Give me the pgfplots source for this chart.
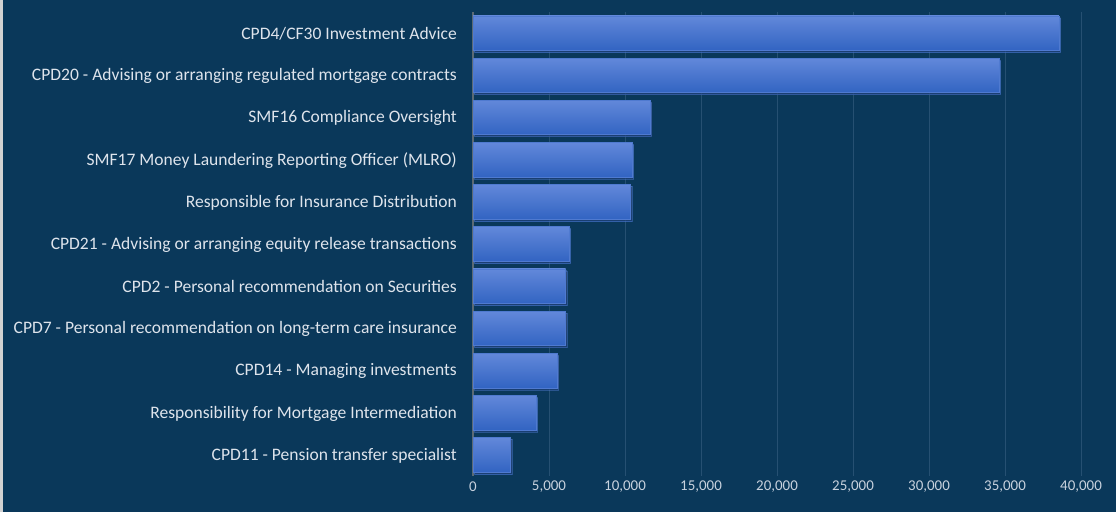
\documentclass[border=0pt]{standalone}
\usepackage{fontspec}
\usepackage{pgfplots}
\pgfplotsset{compat=1.18}
\usetikzlibrary{shadows}
\setmainfont{Carlito}
\definecolor{bg}{RGB}{10,56,90}
\definecolor{gridc}{RGB}{38,80,114}
\definecolor{bartop}{RGB}{98,136,218}
\definecolor{barbot}{RGB}{50,100,194}
\definecolor{txt}{RGB}{222,228,236}
\definecolor{ticktxt}{RGB}{200,210,222}
\pgfplotsset{mybar/.style={draw=bartop!60!barbot, line width=0.5bp, top color=bartop, bottom color=barbot,
  drop shadow={shadow xshift=1.5bp, shadow yshift=-2bp, fill=black, opacity=0.45}}}
\begin{document}
\begin{tikzpicture}[x=1bp,y=1bp]
\fill[bg] (0,0) rectangle (1116,512);
\fill[gray!35] (0,0) rectangle (3,512);
\begin{axis}[
  at={(473bp,36bp)}, anchor=south west,
  scale only axis, width=608bp, height=464bp,
  xbar, bar width=34.5bp, bar shift=0pt,
  xmin=0, xmax=40000,
  ymin=-0.5, ymax=10.5,
  ytick={0,...,10},
  yticklabels={
    CPD11 - Pension transfer specialist,
    Responsibility for Mortgage Intermediation,
    CPD14 - Managing investments,
    CPD7 - Personal recommendation on long-term care insurance,
    CPD2 - Personal recommendation on Securities,
    CPD21 - Advising or arranging equity release transactions,
    Responsible for Insurance Distribution,
    SMF17 Money Laundering Reporting Officer (MLRO),
    SMF16 Compliance Oversight,
    CPD20 - Advising or arranging regulated mortgage contracts,
    CPD4/CF30 Investment Advice},
  xtick={0,5000,...,40000},
  scaled x ticks=false,
  /pgf/number format/.cd, 1000 sep={,}, assume math mode=true, /pgfplots/.cd,
  axis line style={draw=none},
  major tick length=0pt,
  xmajorgrids, grid style={gridc, line width=0.8bp},
  extra x ticks={0}, extra x tick labels={},
  extra x tick style={grid style={color=gray!70!bg, line width=1.2bp}},
  yticklabel style={font=\fontsize{17.6}{20}\selectfont, text=txt, inner sep=0pt, anchor=east, yshift=-0.8bp},
  yticklabel shift=16bp,
  xticklabel style={font=\fontsize{15}{17}\selectfont, text=ticktxt, inner sep=0pt, anchor=center},
  xticklabel shift=11bp,
  clip=false,
]
\addplot[mybar] coordinates {(2480,0)};
\addplot[mybar] coordinates {(4140,1)};
\addplot[mybar] coordinates {(5530,2)};
\addplot[mybar] coordinates {(6080,3)};
\addplot[mybar] coordinates {(6100,4)};
\addplot[mybar] coordinates {(6300,5)};
\addplot[mybar] coordinates {(10370,6)};
\addplot[mybar] coordinates {(10460,7)};
\addplot[mybar] coordinates {(11650,8)};
\addplot[mybar] coordinates {(34600,9)};
\addplot[mybar] coordinates {(38550,10)};
\end{axis}
\end{tikzpicture}
\end{document}
